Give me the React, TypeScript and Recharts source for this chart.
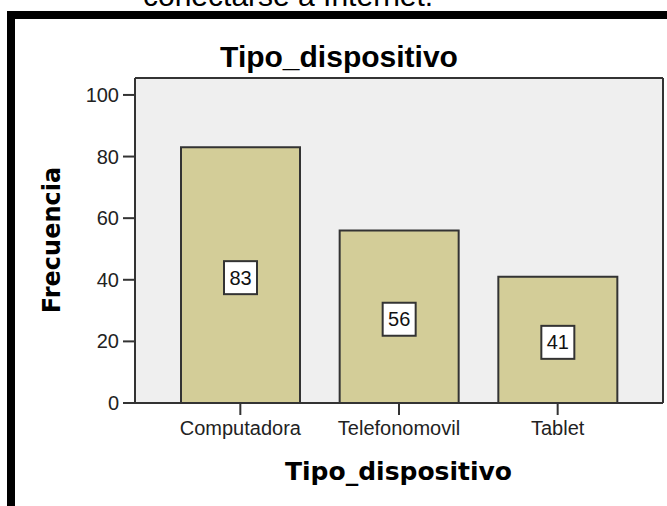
import { Bar, BarChart, CartesianGrid, LabelList, XAxis, YAxis } from "recharts";

// Frequencies per device type
const categories = ["Computadora", "Telefonomovil", "Tablet"];
const frecuencias = [83, 56, 41];
const yTicks = [0, 20, 40, 60, 80, 100];

const data = categories.map((tipo, i) => ({ tipo, frecuencia: frecuencias[i] }));

const ARIAL = '"Liberation Sans", Arial, sans-serif';
const DEJAVU = '"DejaVu Sans", Verdana, sans-serif';
const INK = "#333";

// white box with the count, centred on the bar
function ValueBox(props: any) {
  const { x, y, width, height, value } = props;
  const cx = x + width / 2;
  const cy = y + height / 2 + 2.5;
  return (
    <g>
      <rect x={cx - 16.5} y={cy - 16.5} width={33} height={33} fill="#fff" stroke={INK} strokeWidth={2} />
      <text x={cx} y={cy + 7} textAnchor="middle" fontFamily={ARIAL} fontSize={20} fill="#111">
        {value}
      </text>
    </g>
  );
}

export default function App() {
  return (
    <div style={{ position: "absolute", left: 0, top: 0, width: 667, height: 506, background: "#fff" }}>
      <BarChart width={667} height={506} data={data} margin={{ top: 78, right: 4, left: 75, bottom: 73 }}>
        <CartesianGrid
          fill="#efefef"
          stroke={INK}
          strokeWidth={2}
          horizontalCoordinatesGenerator={({ offset }: any) => [offset.top, offset.top + offset.height]}
          verticalCoordinatesGenerator={({ offset }: any) => [offset.left, offset.left + offset.width]}
        />
        <XAxis
          dataKey="tipo"
          interval={0}
          height={30}
          padding={{ left: 26, right: 26 }}
          tickSize={12}
          tickMargin={6}
          axisLine={{ stroke: INK, strokeWidth: 2 }}
          tickLine={{ stroke: INK, strokeWidth: 2 }}
          tick={{ fontFamily: ARIAL, fontSize: 20, fill: "#222" }}
        />
        <YAxis
          type="number"
          domain={[0, 105.5]}
          allowDataOverflow
          ticks={yTicks}
          width={60}
          tickSize={12}
          tickMargin={4}
          axisLine={{ stroke: INK, strokeWidth: 2 }}
          tickLine={{ stroke: INK, strokeWidth: 2 }}
          tick={{ fontFamily: ARIAL, fontSize: 20, fill: "#222" }}
        />
        <Bar dataKey="frecuencia" barSize={119} fill="#d3cd98" stroke={INK} strokeWidth={2} isAnimationActive={false}>
          <LabelList dataKey="frecuencia" content={ValueBox} />
        </Bar>
      </BarChart>
      <svg
        width={667}
        height={506}
        style={{ position: "absolute", left: 0, top: 0, pointerEvents: "none" }}
      >
        <text x={143} y={6} fontFamily={ARIAL} fontSize={30} fill="#000">
          conectarse a Internet.
        </text>
        <rect x={7} y={11} width={660} height={8} fill="#000" />
        <rect x={7} y={11} width={8} height={495} fill="#000" />
        <text x={339} y={67} textAnchor="middle" fontFamily={ARIAL} fontWeight="bold" fontSize={30} fill="#000">
          Tipo_dispositivo
        </text>
        <text
          transform="translate(60,240) rotate(-90)"
          textAnchor="middle"
          fontFamily={DEJAVU}
          fontWeight="bold"
          fontSize={24}
          fill="#000"
        >
          Frecuencia
        </text>
        <text x={398.5} y={480} textAnchor="middle" fontFamily={DEJAVU} fontWeight="bold" fontSize={25} fill="#000">
          Tipo_dispositivo
        </text>
      </svg>
    </div>
  );
}
